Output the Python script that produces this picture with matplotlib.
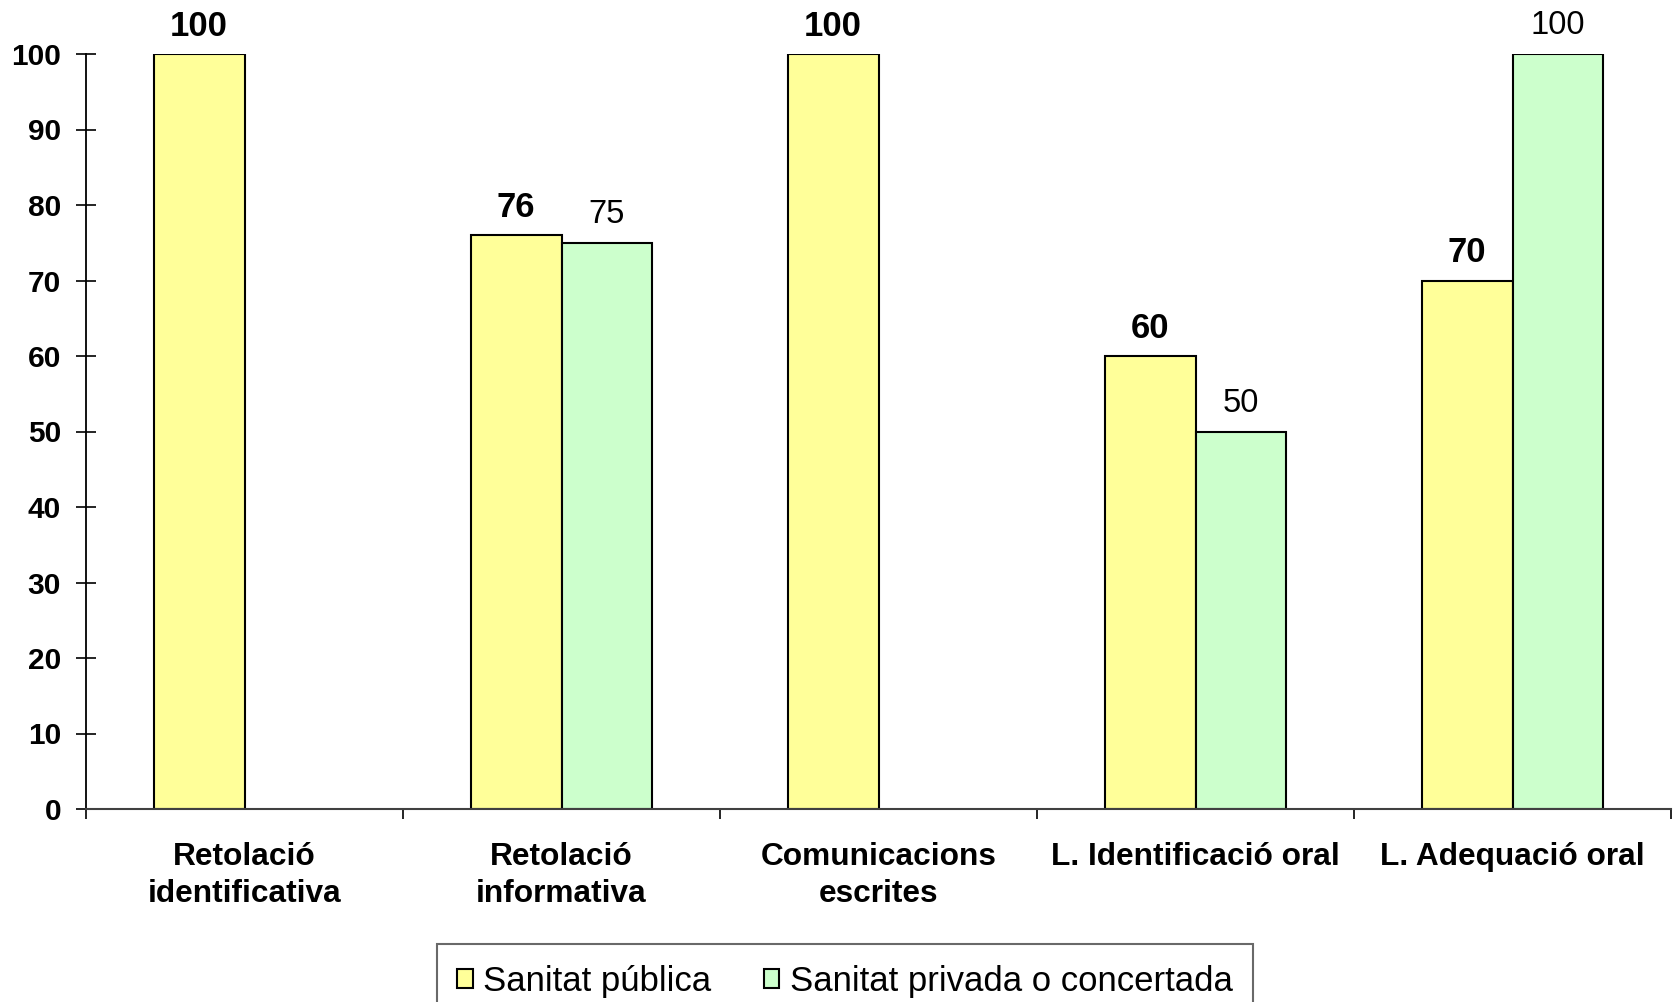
import numpy as np
import matplotlib
matplotlib.use("Agg")
import matplotlib.pyplot as plt
from matplotlib import font_manager
from matplotlib.ticker import FixedLocator

categories = ["Retolació\nidentificativa", "Retolació\ninformativa", "Comunicacions\nescrites",
              "L. Identificació oral", "L. Adequació oral"]
publica = [100, 76, 100, 60, 70]
privada = [np.nan, 75, np.nan, 50, 100]
series_names = ["Sanitat pública", "Sanitat privada o concertada"]
yticks = [0, 10, 20, 30, 40, 50, 60, 70, 80, 90, 100]

names = {f.name for f in font_manager.fontManager.ttflist}
base = "Liberation Sans" if "Liberation Sans" in names else "DejaVu Sans"
plt.rcParams['font.family'] = [base, 'DejaVu Sans']

fig = plt.figure(figsize=(16.76, 10.02), dpi=100)
ax = fig.add_axes([86/1676, 1-809/1002, (1671-86)/1676, (809-54)/1002])

x = np.arange(len(categories))
w = 0.287
b1 = ax.bar(x - w/2, publica, w, color="#FFFF99", edgecolor="black", linewidth=1.5, label=series_names[0])
b2 = ax.bar(x + w/2, privada, w, color="#CCFFCC", edgecolor="black", linewidth=1.5, label=series_names[1])

for xi, v in zip(x - w/2, publica):
    if not np.isnan(v):
        ax.annotate(f"{v:g}", (xi, v), xytext=(0, 8), textcoords="offset points",
                    ha="center", va="bottom", fontsize=25, fontweight="bold")
for xi, v in zip(x + w/2, privada):
    if not np.isnan(v):
        ax.annotate(f"{v:g}", (xi, v), xytext=(0, 9), textcoords="offset points",
                    ha="center", va="bottom", fontsize=23.5)

ax.set_xlim(-0.5, len(categories) - 0.5)
ax.set_ylim(0, 100)
ax.set_yticks(yticks)
ax.set_yticklabels([str(t) for t in yticks], fontsize=21.5, fontweight="bold")
ax.tick_params(axis="y", direction="inout", length=14, width=1.2, pad=11)

ax.set_xticks(x)
ax.set_xticklabels(categories, fontsize=22.8, fontweight="bold", linespacing=1.3)
ax.xaxis.set_minor_locator(FixedLocator(np.arange(len(categories) + 1) - 0.5))
ax.tick_params(axis="x", which="major", length=0, pad=24)
ax.tick_params(axis="x", which="minor", direction="out", length=7, width=1.2)

for s in ["top", "right"]:
    ax.spines[s].set_visible(False)
ax.spines["left"].set_linewidth(1.3)
ax.spines["bottom"].set_linewidth(1.5)
ax.spines["bottom"].set_color("#404040")

leg = fig.legend(handles=[b1, b2], loc="upper center", bbox_to_anchor=(845/1676, 1-944/1002),
                 ncol=2, frameon=True, fancybox=False, prop={"size": 25},
                 handlelength=0.45, handleheight=0.45, handletextpad=0.3, columnspacing=1.5,
                 borderpad=0.6, borderaxespad=0)
leg.get_frame().set_edgecolor("#444444")
leg.get_frame().set_linewidth(1.5)

fig.savefig("out.png", dpi=100)
